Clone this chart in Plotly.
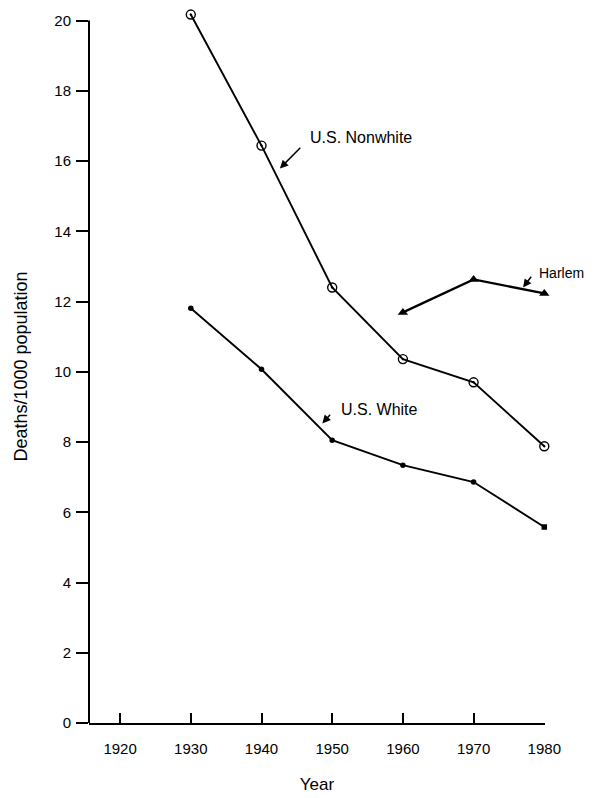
import plotly.graph_objects as go

years = [1930, 1940, 1950, 1960, 1970, 1980]
nonwhite = [20.17, 16.44, 12.40, 10.36, 9.70, 7.88]
white = [11.81, 10.07, 8.05, 7.34, 6.86, 5.58]
harlem_years = [1960, 1970, 1980]
harlem = [11.69, 12.63, 12.23]

x_ticks = [1920, 1930, 1940, 1950, 1960, 1970, 1980]
y_ticks = [0, 2, 4, 6, 8, 10, 12, 14, 16, 18, 20]

FONT = "Liberation Sans, Arial, sans-serif"
ink = "#000000"

fig = go.Figure()
fig.add_trace(go.Scatter(
    x=years, y=nonwhite, mode="lines+markers",
    line=dict(color=ink, width=1.9),
    marker=dict(symbol="circle-open-dot", size=9, color=ink, line=dict(width=1.4)),
    cliponaxis=False, showlegend=False))
fig.add_trace(go.Scatter(
    x=years, y=white, mode="lines+markers",
    line=dict(color=ink, width=1.9),
    marker=dict(symbol=["circle"] * 5 + ["square"], size=5.5, color=ink),
    cliponaxis=False, showlegend=False))
fig.add_trace(go.Scatter(
    x=harlem_years, y=harlem, mode="lines+markers",
    line=dict(color=ink, width=2.3),
    marker=dict(symbol="triangle-up", size=9, color=ink),
    cliponaxis=False, showlegend=False))

def label(text, x, y, ax, ay, hx, hy, size=16):
    fig.add_annotation(x=x, y=y, text=text, showarrow=False, xanchor="left",
                       yanchor="middle", font=dict(family=FONT, size=size, color=ink))
    fig.add_annotation(x=hx, y=hy, ax=ax, ay=ay, axref="x", ayref="y", text="",
                       showarrow=True, arrowhead=2, arrowsize=1.1, arrowwidth=1.5,
                       arrowcolor=ink)

label("U.S. Nonwhite", 1946.6, 16.67, 1945.7, 16.42, 1942.6, 15.79)
label("Harlem", 1978.9, 12.80, 1978.3, 12.75, 1977.0, 12.40, size=14)
label("U.S. White", 1950.9, 8.93, 1949.9, 8.82, 1948.6, 8.53)

# y axis line drawn only from 0 to 20 (the range is padded so the 1930 point shows)
fig.add_shape(type="line", xref="paper", yref="y", x0=0, x1=0, y0=0, y1=20,
              line=dict(color=ink, width=2))

fig.update_layout(
    width=588, height=790,
    margin=dict(l=81, r=51, t=1.5, b=75),
    paper_bgcolor="white", plot_bgcolor="white",
    font=dict(family=FONT, size=15, color=ink),
    xaxis=dict(range=[1915.6, 1980.1], tickvals=x_ticks, ticks="inside", ticklen=10,
               tickwidth=1.5, tickcolor=ink, showline=True, linecolor=ink, linewidth=2,
               showgrid=False, zeroline=False, ticklabelstandoff=11,
               tickfont=dict(size=15),
               title=dict(text="Year", font=dict(size=17), standoff=22)),
    yaxis=dict(range=[0, 20.3], tickvals=y_ticks, ticks="outside", ticklen=12,
               tickwidth=1.5, tickcolor=ink, showline=False,
               showgrid=False, zeroline=False, ticklabelstandoff=2,
               tickfont=dict(size=15),
               title=dict(text="Deaths/1000 population", font=dict(size=18), standoff=22)),
)

fig.write_html("out.html")
